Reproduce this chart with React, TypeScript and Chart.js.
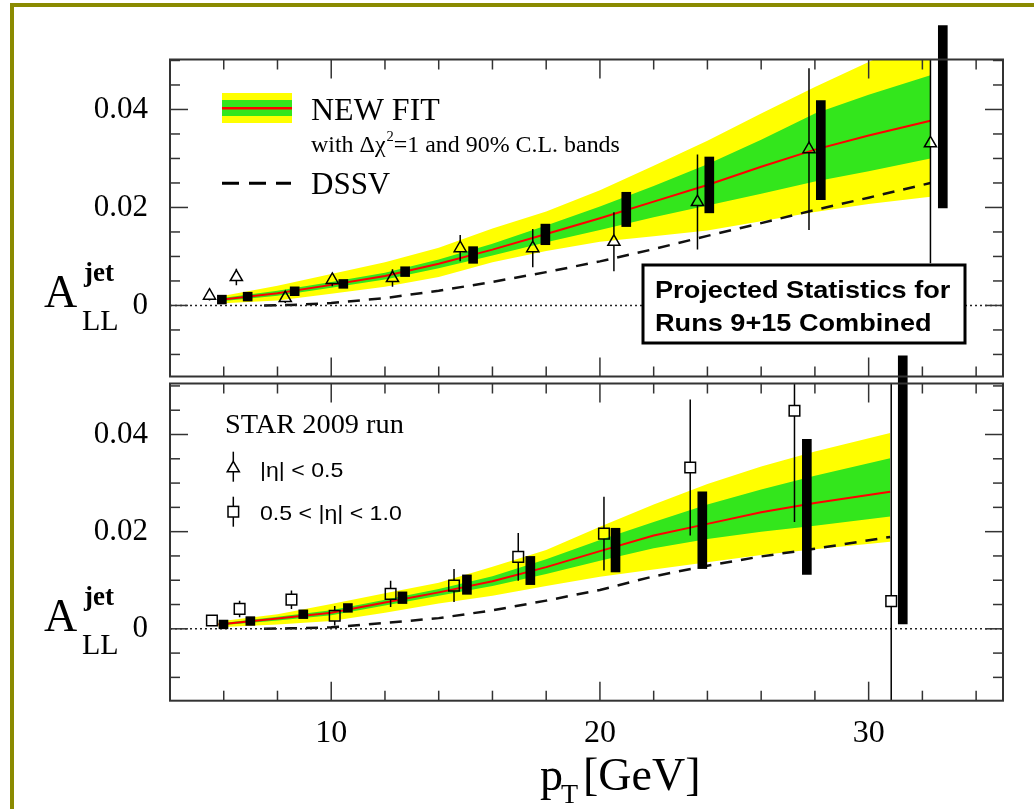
import React, { useEffect, useRef } from "react";
import { Chart, registerables } from "chart.js";

Chart.register(...registerables);

const W = 1034;
const H = 809;

// ---------------- shared axis ----------------
const X_MIN = 4;
const X_MAX = 35;
const xTickValues = [6, 8, 10, 12, 14, 16, 18, 20, 22, 24, 26, 28, 30, 32, 34];
const xLabelValues = [10, 20, 30];
const yLabelValues = [0.04, 0.02, 0];
const zeroLineX = [X_MIN, X_MAX];
const zeroLineY = [0, 0];

// ---------------- top panel (projected Runs 9+15) ----------------
const topBandPt = [5.8, 8, 10, 12, 14, 16, 18, 20, 22, 24, 26, 28, 30, 32.3];
const topFit = [0.0011, 0.0025, 0.0042, 0.006, 0.0085, 0.0114, 0.0146, 0.0178, 0.0212, 0.0246, 0.0283, 0.0318, 0.0347, 0.0377];
const topGreenHi = [0.0014, 0.003, 0.0048, 0.0067, 0.0094, 0.0126, 0.0163, 0.0202, 0.0244, 0.0288, 0.0338, 0.0392, 0.043, 0.047];
const topGreenLo = [0.0008, 0.002, 0.0036, 0.0053, 0.0076, 0.0102, 0.0129, 0.0154, 0.018, 0.0204, 0.0228, 0.0253, 0.0274, 0.03];
const topYellowHi = [0.0018, 0.004, 0.0064, 0.0088, 0.0118, 0.0157, 0.0192, 0.0235, 0.0285, 0.0336, 0.0392, 0.0446, 0.0497, 0.0555];
const topYellowLo = [0.0004, 0.001, 0.0024, 0.0038, 0.0058, 0.0088, 0.0111, 0.013, 0.0141, 0.0153, 0.0172, 0.0191, 0.0207, 0.0222];
const topDssvPt = [7.5, 8.5, 10, 12, 14, 16, 18, 20, 22, 24, 26, 28, 30, 32.3];
const topDssv = [0, 0.0001, 0.0005, 0.0015, 0.003, 0.0048, 0.0068, 0.009, 0.0115, 0.0142, 0.0168, 0.0195, 0.022, 0.025];
const topTriX = [5.47, 6.47, 8.29, 10.04, 12.28, 14.8, 17.5, 20.52, 23.63, 27.78, 32.3];
const topTriY = [0.002, 0.0058, 0.0015, 0.0052, 0.0056, 0.0117, 0.0117, 0.013, 0.0211, 0.0319, 0.0331];
const topTriErr = [0.001, 0.0017, 0.001, 0.0013, 0.0018, 0.0027, 0.0039, 0.006, 0.0097, 0.0165, 0.0245];
const topBarX = [5.93, 6.89, 8.64, 10.45, 12.75, 15.28, 17.97, 20.98, 24.07, 28.22, 32.76];
const topBarY = [0.0012, 0.0018, 0.0029, 0.0044, 0.0069, 0.0103, 0.0145, 0.0196, 0.0246, 0.0317, 0.0385];
const topBarErr = [0.0009, 0.0009, 0.0009, 0.0009, 0.001, 0.0017, 0.0021, 0.0035, 0.0057, 0.0101, 0.0186];

// ---------------- bottom panel (STAR 2009 run) ----------------
const botBandPt = [5.8, 8, 10, 12, 14, 16, 18, 20, 22, 24, 26, 28, 30.8];
const botFit = [0.0009, 0.0021, 0.0033, 0.0054, 0.0075, 0.0098, 0.0127, 0.016, 0.0192, 0.0216, 0.024, 0.0259, 0.0282];
const botGreenHi = [0.0011, 0.0025, 0.0038, 0.006, 0.0082, 0.0108, 0.0143, 0.0183, 0.022, 0.0256, 0.0287, 0.0315, 0.0351];
const botGreenLo = [0.0007, 0.0017, 0.0028, 0.0048, 0.0068, 0.0088, 0.0113, 0.014, 0.0166, 0.0185, 0.02, 0.0212, 0.0231];
const botYellowHi = [0.0015, 0.003, 0.0051, 0.0073, 0.0095, 0.0128, 0.0162, 0.021, 0.0256, 0.0298, 0.0334, 0.0365, 0.0403];
const botYellowLo = [0.0003, 0.0009, 0.0016, 0.0033, 0.0052, 0.0068, 0.0088, 0.0107, 0.0122, 0.0137, 0.0152, 0.0164, 0.0179];
const botDssvPt = [7.5, 8.5, 10, 12, 14, 16, 18, 20, 22, 24, 26, 28, 30.8];
const botDssv = [0, 0.0001, 0.0003, 0.0012, 0.0022, 0.0038, 0.0058, 0.008, 0.0108, 0.013, 0.0149, 0.0165, 0.0189];
const botSqX = [5.56, 6.59, 8.52, 10.13, 12.21, 14.57, 16.96, 20.15, 23.36, 27.24, 30.84];
const botSqY = [0.0017, 0.0041, 0.006, 0.0027, 0.0072, 0.0089, 0.0148, 0.0196, 0.0332, 0.0449, 0.0057];
const botSqErr = [0.0008, 0.0017, 0.0019, 0.002, 0.0027, 0.0034, 0.0049, 0.0076, 0.014, 0.0229, 0.056];
const botBarX = [5.99, 6.99, 8.96, 10.62, 12.65, 15.05, 17.41, 20.58, 23.81, 27.7, 31.27];
const botBarY = [0.0009, 0.0016, 0.003, 0.0043, 0.0064, 0.0091, 0.012, 0.0162, 0.0203, 0.0251, 0.0286];
const botBarErr = [0.0009, 0.0009, 0.0009, 0.0009, 0.0012, 0.002, 0.0029, 0.0045, 0.0079, 0.0139, 0.0276];

const SERIF = '"Liberation Serif", "Times New Roman", serif';
const SANS = '"Liberation Sans", Arial, sans-serif';
const GREEN = "#33e61c";
const YELLOW = "#ffff00";

function txt(ctx: any, s: string, x: number, y: number, font: string, sx = 1) {
  ctx.save();
  ctx.font = font;
  ctx.fillStyle = "#000";
  ctx.textAlign = "left";
  ctx.textBaseline = "alphabetic";
  ctx.translate(x, y);
  ctx.scale(sx, 1);
  ctx.fillText(s, 0, 0);
  const w = ctx.measureText(s).width * sx;
  ctx.restore();
  return w;
}

function seg(ctx: any, x1: number, y1: number, x2: number, y2: number) {
  ctx.beginPath();
  ctx.moveTo(x1, y1);
  ctx.lineTo(x2, y2);
  ctx.stroke();
}

function triPath(ctx: any, x: number, y: number, r: number) {
  ctx.beginPath();
  ctx.moveTo(x, y - r);
  ctx.lineTo(x + 0.866 * r, y + 0.5 * r);
  ctx.lineTo(x - 0.866 * r, y + 0.5 * r);
  ctx.closePath();
}

function drawALabel(ctx: any, z: number) {
  txt(ctx, "A", 44, z + 2, `46px ${SERIF}`);
  txt(ctx, "jet", 84, z - 24, `bold 27px ${SERIF}`);
  txt(ctx, "LL", 82, z + 25, `30px ${SERIF}`);
}

function drawFrame(chart: any) {
  const { ctx, chartArea: a, scales } = chart;
  const x = scales.x;
  const y = scales.y;
  ctx.save();
  ctx.strokeStyle = "#333";
  ctx.lineWidth = 1.5;
  xTickValues.forEach((v) => {
    const px = x.getPixelForValue(v);
    const L = v % 10 === 0 ? 19 : 10;
    seg(ctx, px, a.top, px, a.top + L);
    seg(ctx, px, a.bottom, px, a.bottom - L);
  });
  const start = Math.ceil(y.min / 0.005);
  const end = Math.floor(y.max / 0.005);
  for (let k = start; k <= end; k++) {
    const v = k * 0.005;
    const py = y.getPixelForValue(v);
    const major = k % 4 === 0;
    const L = major ? 18 : 10;
    seg(ctx, a.left, py, a.left + L, py);
    seg(ctx, a.right, py, a.right - L, py);
  }
  ctx.lineWidth = 2;
  ctx.strokeRect(a.left, a.top, a.right - a.left, a.bottom - a.top);
  ctx.restore();
}

function drawErrorBars(chart: any, xs: number[], ys: number[], es: number[], gapUp: number, gapDown: number) {
  const { ctx, chartArea: a, scales } = chart;
  const x = scales.x;
  const y = scales.y;
  ctx.save();
  ctx.beginPath();
  ctx.rect(a.left, a.top, a.right - a.left, a.bottom - a.top);
  ctx.clip();
  ctx.strokeStyle = "#000";
  ctx.lineWidth = 1.5;
  xs.forEach((xv, i) => {
    const px = x.getPixelForValue(xv);
    const pc = y.getPixelForValue(ys[i]);
    const ph = y.getPixelForValue(ys[i] + es[i]);
    const pl = y.getPixelForValue(ys[i] - es[i]);
    if (ph < pc - gapUp) seg(ctx, px, pc - gapUp, px, ph);
    if (pl > pc + gapDown) seg(ctx, px, pc + gapDown, px, pl);
  });
  ctx.restore();
}

function drawTopDecor(chart: any) {
  const { ctx, scales } = chart;
  ctx.save();
  // legend swatch
  ctx.fillStyle = YELLOW;
  ctx.fillRect(222, 93, 70, 30);
  ctx.fillStyle = GREEN;
  ctx.fillRect(222, 100, 70, 16);
  ctx.strokeStyle = "#ff0000";
  ctx.lineWidth = 2.5;
  seg(ctx, 222, 108.3, 292, 108.3);
  txt(ctx, "NEW FIT", 311, 120, `32px ${SERIF}`);
  let xx = 311;
  xx += txt(ctx, "with \u0394\u03c7", xx, 152, `23px ${SERIF}`, 1.04);
  xx += txt(ctx, "2", xx + 1, 141, `14px ${SERIF}`, 1.04) + 1;
  txt(ctx, "=1 and 90% C.L. bands", xx, 152, `23px ${SERIF}`, 1.04);
  // DSSV legend
  ctx.strokeStyle = "#000";
  ctx.lineWidth = 3;
  ctx.setLineDash([17, 10]);
  seg(ctx, 222, 183.3, 291, 183.3);
  ctx.setLineDash([]);
  txt(ctx, "DSSV", 311, 194, `31px ${SERIF}`);
  // box
  ctx.fillStyle = "#fff";
  ctx.fillRect(643, 265, 322, 78);
  ctx.strokeStyle = "#000";
  ctx.lineWidth = 3;
  ctx.strokeRect(643, 265, 322, 78);
  txt(ctx, "Projected Statistics for", 655, 298, `bold 24px ${SANS}`, 1.13);
  txt(ctx, "Runs 9+15 Combined", 655, 331, `bold 24px ${SANS}`, 1.13);
  ctx.restore();
  drawALabel(ctx, scales.y.getPixelForValue(0));
}

function drawBottomDecor(chart: any) {
  const { ctx, scales } = chart;
  ctx.save();
  txt(ctx, "STAR 2009 run", 225, 433, `27px ${SERIF}`, 1.05);
  ctx.strokeStyle = "#000";
  ctx.lineWidth = 1.5;
  // triangle legend
  triPath(ctx, 233.3, 468.3, 7);
  ctx.stroke();
  seg(ctx, 233.3, 451.7, 233.3, 461.3);
  seg(ctx, 233.3, 471.8, 233.3, 481.7);
  txt(ctx, "|\u03b7| < 0.5", 260, 477, `21px ${SANS}`, 1.1);
  // square legend
  ctx.strokeRect(228, 506.4, 10.6, 10.6);
  seg(ctx, 233.3, 496.7, 233.3, 506.4);
  seg(ctx, 233.3, 517, 233.3, 526.7);
  txt(ctx, "0.5 < |\u03b7| < 1.0", 260, 520, `21px ${SANS}`, 1.1);
  // x title
  txt(ctx, "p", 540, 790, `46px ${SERIF}`);
  txt(ctx, "T", 561, 803, `28px ${SERIF}`);
  txt(ctx, "[GeV]", 583, 790, `46px ${SERIF}`);
  ctx.restore();
  drawALabel(ctx, scales.y.getPixelForValue(0));
}

function pts(xs: number[], ys: number[]) {
  return xs.map((x, i) => ({ x, y: ys[i] }));
}

function buildConfig(p: any): any {
  const datasets: any[] = [
    { type: "line", data: pts(p.band, p.yLo), borderWidth: 0, borderColor: "rgba(0,0,0,0)", pointRadius: 0, fill: false, order: 6 },
    { type: "line", data: pts(p.band, p.yHi), borderWidth: 0, borderColor: "rgba(0,0,0,0)", pointRadius: 0, fill: "-1", backgroundColor: YELLOW, order: 6 },
    { type: "line", data: pts(p.band, p.gLo), borderWidth: 0, borderColor: "rgba(0,0,0,0)", pointRadius: 0, fill: false, order: 5 },
    { type: "line", data: pts(p.band, p.gHi), borderWidth: 0, borderColor: "rgba(0,0,0,0)", pointRadius: 0, fill: "-1", backgroundColor: GREEN, order: 5 },
    { type: "line", data: pts(p.band, p.fit), borderColor: "#ff0000", borderWidth: 2, pointRadius: 0, fill: false, order: 4 },
    { type: "line", data: pts(p.dssvX, p.dssv), borderColor: "#111", borderWidth: 2.5, borderDash: [12, 9], pointRadius: 0, fill: false, order: 3 },
    { type: "line", data: pts(zeroLineX, zeroLineY), borderColor: "#222", borderWidth: 1.5, borderDash: [2, 3], pointRadius: 0, fill: false, order: 2 },
    {
      type: "bar",
      data: p.barX.map((x: number, i: number) => ({ x, y: [p.barY[i] - p.barE[i], p.barY[i] + p.barE[i]] })),
      backgroundColor: "#000",
      borderWidth: 0,
      barThickness: 9,
      grouped: false,
      clip: false,
      order: 1,
    },
    {
      type: "scatter",
      data: pts(p.mX, p.mY),
      showLine: false,
      pointStyle: p.style,
      pointRadius: p.style === "triangle" ? 7 : 7.5,
      pointBorderColor: "#000",
      pointBackgroundColor: "rgba(0,0,0,0)",
      pointBorderWidth: 1.5,
      order: 0,
    },
  ];
  const plugin = {
    id: "panelDecor",
    afterDatasetsDraw(chart: any) {
      drawErrorBars(chart, p.mX, p.mY, p.mE, p.gapUp, p.gapDown);
    },
    afterDraw(chart: any) {
      drawFrame(chart);
      p.decor(chart);
    },
  };
  return {
    type: "scatter",
    data: { datasets },
    plugins: [plugin],
    options: {
      animation: false,
      responsive: false,
      devicePixelRatio: 1,
      events: [],
      layout: { padding: { left: 0, right: W - 1003, top: p.top, bottom: p.padBottom } },
      plugins: { legend: { display: false }, tooltip: { enabled: false }, title: { display: false } },
      scales: {
        x: {
          type: "linear",
          min: X_MIN,
          max: X_MAX,
          offset: false,
          display: p.showX,
          grid: { display: false, drawTicks: false },
          border: { display: false },
          ticks: {
            stepSize: 2,
            autoSkip: false,
            maxRotation: 0,
            padding: 14,
            color: "#000",
            font: { family: SERIF, size: 32 },
            callback: (v: any) => {
              const n = Number(v);
              return xLabelValues.some((t) => Math.abs(t - n) < 1e-9) ? String(Math.round(n)) : "";
            },
          },
          afterFit: (s: any) => {
            s.height = p.xAxisHeight;
          },
        },
        y: {
          type: "linear",
          min: p.yMin,
          max: p.yMax,
          grid: { display: false, drawTicks: false },
          border: { display: false },
          ticks: {
            stepSize: 0.005,
            autoSkip: false,
            padding: 22,
            color: "#000",
            font: { family: SERIF, size: 31 },
            callback: (v: any) => {
              const n = Number(v);
              const hit = yLabelValues.find((t) => Math.abs(t - n) < 1e-7);
              return hit === undefined ? "" : hit === 0 ? "0" : hit.toFixed(2);
            },
          },
          afterFit: (s: any) => {
            s.width = 170;
          },
        },
      },
    },
  };
}

export default function App() {
  const topRef = useRef<HTMLCanvasElement>(null);
  const botRef = useRef<HTMLCanvasElement>(null);

  useEffect(() => {
    const top = new Chart(
      topRef.current as HTMLCanvasElement,
      buildConfig({
        band: topBandPt,
        fit: topFit,
        gHi: topGreenHi,
        gLo: topGreenLo,
        yHi: topYellowHi,
        yLo: topYellowLo,
        dssvX: topDssvPt,
        dssv: topDssv,
        barX: topBarX,
        barY: topBarY,
        barE: topBarErr,
        mX: topTriX,
        mY: topTriY,
        mE: topTriErr,
        style: "triangle",
        gapUp: 7,
        gapDown: 3.5,
        yMin: -0.0145,
        yMax: 0.0502,
        top: 59.5,
        padBottom: H - 376.5,
        showX: false,
        xAxisHeight: 0,
        decor: (c: any) => drawTopDecor(c),
      })
    );
    const bot = new Chart(
      botRef.current as HTMLCanvasElement,
      buildConfig({
        band: botBandPt,
        fit: botFit,
        gHi: botGreenHi,
        gLo: botGreenLo,
        yHi: botYellowHi,
        yLo: botYellowLo,
        dssvX: botDssvPt,
        dssv: botDssv,
        barX: botBarX,
        barY: botBarY,
        barE: botBarErr,
        mX: botSqX,
        mY: botSqY,
        mE: botSqErr,
        style: "rect",
        gapUp: 5.3,
        gapDown: 5.3,
        yMin: -0.0148,
        yMax: 0.0505,
        top: 383.5,
        padBottom: 0,
        showX: true,
        xAxisHeight: H - 700.7,
        decor: (c: any) => drawBottomDecor(c),
      })
    );
    return () => {
      top.destroy();
      bot.destroy();
    };
  }, []);

  return (
    <div style={{ position: "absolute", left: 0, top: 0, width: W, height: H, background: "#fff", overflow: "hidden" }}>
      <div
        style={{
          position: "absolute",
          left: 10,
          top: 3,
          width: W,
          height: H,
          borderLeft: "4px solid #8a8a00",
          borderTop: "4px solid #8a8a00",
        }}
      />
      <canvas ref={botRef} width={W} height={H} style={{ position: "absolute", left: 0, top: 0, width: W, height: H }} />
      <canvas ref={topRef} width={W} height={H} style={{ position: "absolute", left: 0, top: 0, width: W, height: H }} />
    </div>
  );
}
